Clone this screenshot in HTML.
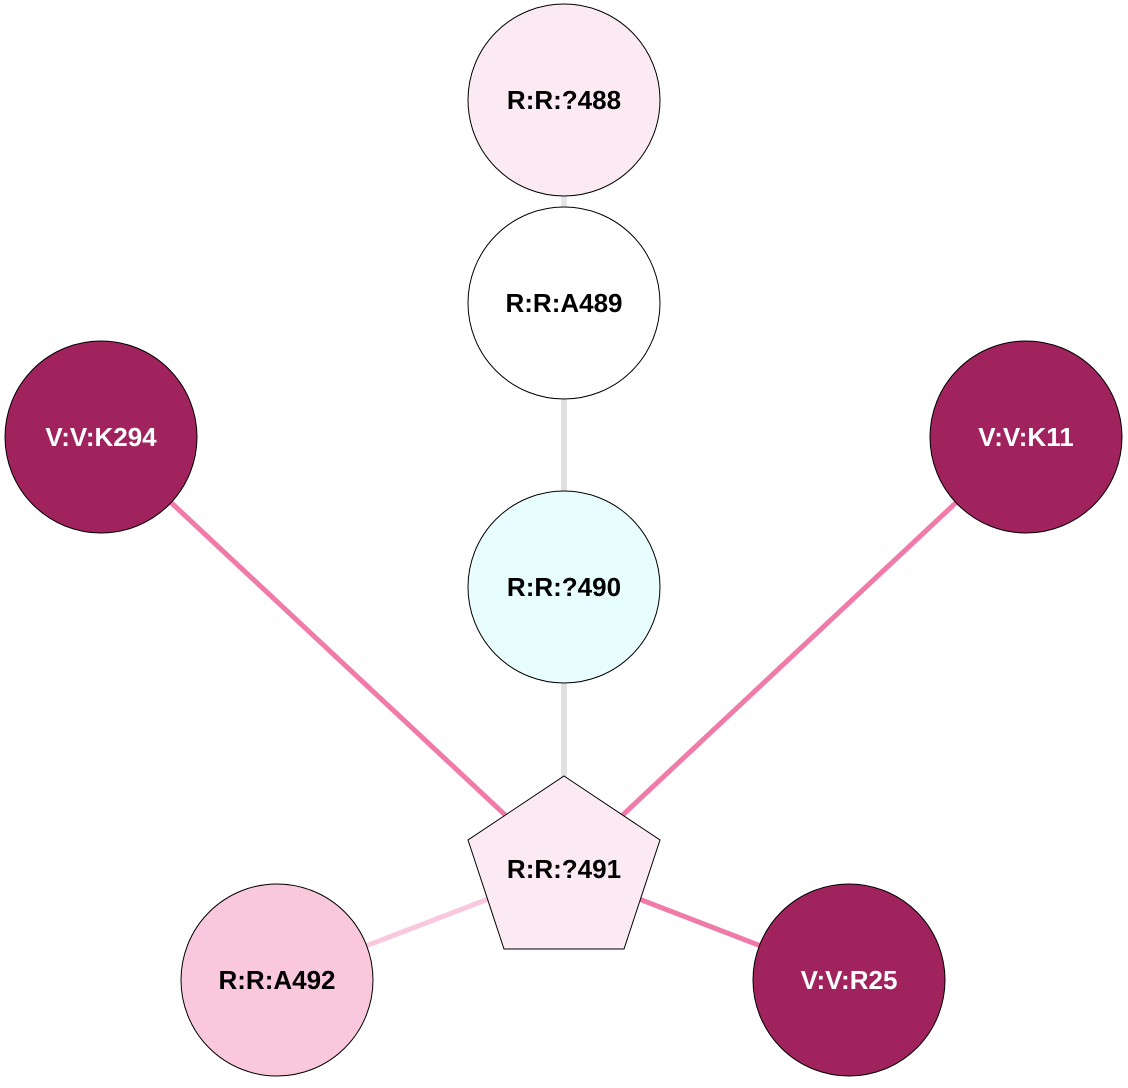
<!DOCTYPE html>
<html><head><meta charset="utf-8"><style>
html,body{margin:0;padding:0;background:#fff;}
svg text{font-family:"Liberation Sans",Arial,sans-serif;font-weight:bold;font-size:26px;text-anchor:middle;dominant-baseline:central;}
</style></head><body>
<svg width="1128" height="1083" viewBox="0 0 1128 1083" xmlns="http://www.w3.org/2000/svg">
<rect width="1128" height="1083" fill="#fff"/>
<g stroke-linecap="butt">
<line x1="564" y1="100" x2="564" y2="303" stroke="#e6e6e6" stroke-width="6"/>
<line x1="564" y1="303" x2="564" y2="587" stroke="#e0e0e0" stroke-width="6"/>
<line x1="564" y1="587" x2="564" y2="860" stroke="#e0e0e0" stroke-width="6"/>
<line x1="101" y1="437" x2="564" y2="870" stroke="#f07aa8" stroke-width="5"/>
<line x1="1026" y1="437" x2="564" y2="870" stroke="#f07aa8" stroke-width="5"/>
<line x1="277" y1="980" x2="564" y2="870" stroke="#f9c8dd" stroke-width="5"/>
<line x1="849" y1="980" x2="564" y2="870" stroke="#f07aa8" stroke-width="5"/>
</g>
<g stroke="#000" stroke-width="1">
<circle cx="564" cy="100" r="96" fill="#fbeaf2"/>
<circle cx="564" cy="303" r="96" fill="#fff"/>
<circle cx="564" cy="587" r="96" fill="#e8fdfd"/>
<circle cx="101" cy="437" r="96" fill="#a0235e"/>
<circle cx="1026" cy="437" r="96" fill="#a0235e"/>
<circle cx="277" cy="980" r="96" fill="#f9c8dd"/>
<circle cx="849" cy="980" r="96" fill="#a0235e"/>
<polygon points="564,776 660,840 624,949 504,949 468,840" fill="#fbeaf2"/>
</g>
<text x="564" y="100">R:R:?488</text>
<text x="564" y="303">R:R:A489</text>
<text x="564" y="587">R:R:?490</text>
<text x="101" y="437" fill="#fff">V:V:K294</text>
<text x="1026" y="437" fill="#fff">V:V:K11</text>
<text x="277" y="980">R:R:A492</text>
<text x="849" y="980" fill="#fff">V:V:R25</text>
<text x="564" y="869">R:R:?491</text>
</svg>
</body></html>
